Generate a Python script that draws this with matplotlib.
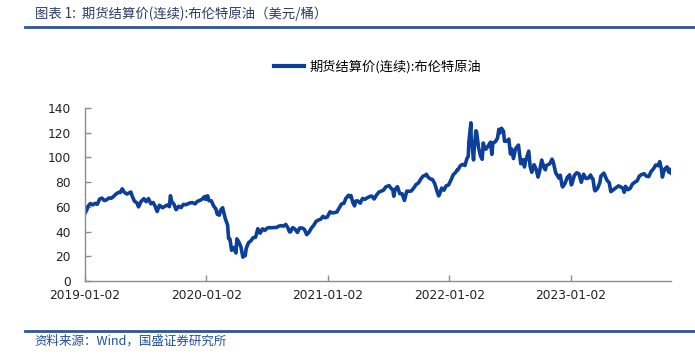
import matplotlib
matplotlib.use("Agg")
import matplotlib.pyplot as plt
import matplotlib.dates as mdates
from matplotlib.lines import Line2D
import pandas as pd

# ---------------- data ----------------
dates_2019 = ["2019-01-02","2019-01-07","2019-01-11","2019-01-18","2019-01-25","2019-02-01","2019-02-08",
              "2019-02-15","2019-02-22","2019-03-01","2019-03-08","2019-03-15","2019-03-22","2019-03-29",
              "2019-04-05","2019-04-12","2019-04-18","2019-04-24","2019-05-01","2019-05-08","2019-05-14",
              "2019-05-20","2019-05-24","2019-05-31","2019-06-07","2019-06-12","2019-06-20","2019-06-28",
              "2019-07-05","2019-07-12","2019-07-19","2019-07-26","2019-08-01","2019-08-07","2019-08-14",
              "2019-08-23","2019-08-30","2019-09-06","2019-09-13","2019-09-16","2019-09-20","2019-09-27",
              "2019-10-03","2019-10-11","2019-10-18","2019-10-25","2019-11-01","2019-11-08","2019-11-15",
              "2019-11-22","2019-11-29","2019-12-06","2019-12-13","2019-12-20","2019-12-27","2019-12-31"]
vals_2019 = [54.9,57.3,60.5,62.7,61.6,62.8,62.1,66.3,67.1,65.1,65.7,67.2,67.0,68.4,70.3,71.6,71.6,74.6,
             71.6,70.4,71.2,72.0,68.7,64.5,63.3,60.0,64.5,66.6,64.2,66.7,62.5,63.5,60.5,56.2,61.3,59.3,
             60.4,61.5,60.2,69.0,64.3,61.9,57.7,60.5,59.4,62.0,61.7,62.5,63.3,63.4,62.4,64.4,65.2,66.1,
             68.2,66.0]

dates_2020 = ["2020-01-03","2020-01-06","2020-01-10","2020-01-17","2020-01-24","2020-01-31","2020-02-04",
              "2020-02-10","2020-02-14","2020-02-20","2020-02-28","2020-03-06","2020-03-09","2020-03-13",
              "2020-03-18","2020-03-24","2020-03-31","2020-04-03","2020-04-09","2020-04-15","2020-04-21",
              "2020-04-24","2020-04-28","2020-05-01","2020-05-08","2020-05-15","2020-05-22","2020-05-29",
              "2020-06-05","2020-06-12","2020-06-19","2020-06-26","2020-07-03","2020-07-10","2020-07-17",
              "2020-07-24","2020-07-31","2020-08-07","2020-08-14","2020-08-21","2020-08-28","2020-09-04",
              "2020-09-08","2020-09-11","2020-09-18","2020-09-25","2020-10-02","2020-10-09","2020-10-16",
              "2020-10-23","2020-10-30","2020-11-06","2020-11-13","2020-11-20","2020-11-27","2020-12-04",
              "2020-12-11","2020-12-18","2020-12-24","2020-12-31"]
vals_2020 = [68.6,68.9,65.0,64.9,60.7,58.2,54.0,53.3,57.3,59.3,50.5,45.3,34.4,33.9,24.9,27.2,22.7,34.1,
             31.5,27.7,19.3,21.4,20.5,26.4,31.0,32.5,35.1,35.3,42.3,38.7,42.2,41.0,42.8,43.2,43.1,43.3,
             43.3,44.4,44.8,44.4,45.8,42.7,39.8,39.8,43.2,41.9,39.3,42.9,42.9,41.8,37.5,39.5,42.8,45.0,
             48.2,49.3,50.0,52.3,51.2,51.8]

dates_2021 = ["2021-01-08","2021-01-15","2021-01-22","2021-01-29","2021-02-05","2021-02-12","2021-02-19",
              "2021-02-25","2021-03-05","2021-03-08","2021-03-12","2021-03-18","2021-03-23","2021-03-26",
              "2021-04-01","2021-04-09","2021-04-16","2021-04-23","2021-04-30","2021-05-07","2021-05-14",
              "2021-05-21","2021-05-28","2021-06-04","2021-06-11","2021-06-18","2021-06-25","2021-07-05",
              "2021-07-09","2021-07-16","2021-07-19","2021-07-23","2021-07-30","2021-08-06","2021-08-13",
              "2021-08-20","2021-08-27","2021-09-03","2021-09-10","2021-09-17","2021-09-24","2021-10-01",
              "2021-10-08","2021-10-15","2021-10-22","2021-10-25","2021-10-29","2021-11-05","2021-11-12",
              "2021-11-19","2021-11-26","2021-12-01","2021-12-03","2021-12-10","2021-12-17","2021-12-23",
              "2021-12-31"]
vals_2021 = [56.0,55.1,55.4,55.9,59.3,62.4,62.9,67.0,69.4,68.2,69.2,63.3,60.8,64.6,64.9,63.0,66.8,66.1,
             67.3,68.3,68.7,66.4,69.6,71.9,72.7,73.5,76.2,77.2,75.6,73.6,68.6,74.1,76.3,70.7,70.6,65.2,
             72.7,72.6,72.9,75.3,78.1,79.3,82.4,84.9,85.5,86.4,84.4,82.7,82.2,78.9,72.7,68.9,69.9,75.2,
             73.5,76.9,77.8]

dates_2022 = ["2022-01-07","2022-01-14","2022-01-21","2022-01-26","2022-01-28","2022-02-04","2022-02-11",
              "2022-02-18","2022-02-24","2022-02-28","2022-03-02","2022-03-04","2022-03-08","2022-03-09",
              "2022-03-11","2022-03-15","2022-03-16","2022-03-18","2022-03-23","2022-03-25","2022-03-31",
              "2022-04-06","2022-04-11","2022-04-14","2022-04-19","2022-04-22","2022-04-29","2022-05-06",
              "2022-05-10","2022-05-13","2022-05-20","2022-05-27","2022-05-31","2022-06-03","2022-06-08",
              "2022-06-14","2022-06-17","2022-06-24","2022-06-30","2022-07-05","2022-07-08","2022-07-14",
              "2022-07-20","2022-07-29","2022-08-05","2022-08-12","2022-08-16","2022-08-19","2022-08-29",
              "2022-09-02","2022-09-07","2022-09-14","2022-09-20","2022-09-26","2022-09-30","2022-10-07",
              "2022-10-14","2022-10-18","2022-10-21","2022-10-31","2022-11-07","2022-11-11","2022-11-18",
              "2022-11-28","2022-12-02","2022-12-07","2022-12-09","2022-12-16","2022-12-23","2022-12-30"]
vals_2022 = [81.8,86.1,87.9,90.0,90.0,93.3,94.4,93.5,99.1,101.0,112.9,118.1,128.0,111.1,112.7,99.9,98.0,
             107.9,121.6,120.7,107.9,101.1,98.5,111.7,107.3,106.7,109.3,112.4,102.5,111.6,112.6,115.6,
             122.8,119.7,123.6,121.2,113.1,113.1,114.8,102.8,107.0,99.1,106.9,110.0,94.9,98.2,92.3,96.7,
             105.1,93.0,88.0,94.1,90.6,84.1,88.0,97.9,91.6,90.0,93.5,94.8,98.6,96.0,87.6,83.2,85.6,77.2,
             76.1,79.0,83.9,85.9]

dates_2023 = ["2023-01-04","2023-01-06","2023-01-13","2023-01-20","2023-01-27","2023-02-03","2023-02-10",
              "2023-02-17","2023-02-24","2023-03-03","2023-03-07","2023-03-10","2023-03-15","2023-03-17",
              "2023-03-24","2023-03-31","2023-04-03","2023-04-12","2023-04-21","2023-04-28","2023-05-03",
              "2023-05-12","2023-05-19","2023-05-26","2023-06-02","2023-06-09","2023-06-12","2023-06-16",
              "2023-06-23","2023-06-30","2023-07-07","2023-07-14","2023-07-21","2023-07-28","2023-08-04",
              "2023-08-11","2023-08-18","2023-08-25","2023-09-01","2023-09-08","2023-09-15","2023-09-22",
              "2023-09-27","2023-10-02","2023-10-05","2023-10-09","2023-10-13","2023-10-19","2023-10-24",
              "2023-10-27","2023-10-31"]
vals_2023 = [77.8,78.6,85.3,87.6,86.7,79.9,86.4,83.0,83.2,85.8,83.3,82.8,73.7,73.0,75.0,79.8,84.9,87.3,
             81.7,79.5,72.3,74.2,75.6,77.0,76.1,74.8,71.8,76.6,73.9,74.9,78.5,79.9,81.1,85.0,86.2,86.8,
             84.8,84.5,88.6,90.7,93.9,93.3,96.6,90.7,84.1,88.2,90.9,92.4,88.1,90.5,87.4]

series_name = "期货结算价(连续):布伦特原油"
title_text = "图表 1:  期货结算价(连续):布伦特原油（美元/桶）"
source_text = "资料来源：Wind，国盛证券研究所"
x_tick_labels = ["2019-01-02", "2020-01-02", "2021-01-02", "2022-01-02", "2023-01-02"]
y_ticks = [0, 20, 40, 60, 80, 100, 120, 140]

# ---------------- build ----------------
dates = pd.to_datetime(dates_2019 + dates_2020 + dates_2021 + dates_2022 + dates_2023)
values = vals_2019 + vals_2020 + vals_2021 + vals_2022 + vals_2023

CJK = ["Noto Sans CJK SC", "DejaVu Sans"]
LINE_COLOR = "#0B3F99"
RULE_COLOR = "#2F5597"

fig = plt.figure(figsize=(6.95, 3.61), dpi=100)
ax = fig.add_axes([0.1223, 0.2216, 0.8432, 0.4792])

ax.plot(dates, values, color=LINE_COLOR, linewidth=2.6, solid_joinstyle="round")

ax.set_ylim(0, 140)
ax.set_yticks(y_ticks)
ax.set_xlim(dates[0], dates[-1])
xt = pd.to_datetime(x_tick_labels)
ax.set_xticks(xt)
ax.set_xticklabels(x_tick_labels)

for s in ["top", "right"]:
    ax.spines[s].set_visible(False)
for s in ["left", "bottom"]:
    ax.spines[s].set_color("#8C8C8C")
    ax.spines[s].set_linewidth(1.0)
ax.tick_params(axis="both", direction="in", length=4, width=1.0, color="#8C8C8C",
               labelsize=8.8, labelcolor="#222222")
ax.tick_params(axis="y", pad=10)
ax.tick_params(axis="x", pad=6)

# legend
handle = Line2D([0], [0], color=LINE_COLOR, linewidth=3)
fig.legend([handle], [series_name], loc="center", bbox_to_anchor=(0.543, 0.815),
           frameon=False, handlelength=2.3, handletextpad=0.4,
           prop={"family": CJK, "size": 9.5})

# title and source
fig.text(0.050, 0.962, title_text, family=CJK, fontsize=9.6, color="#2B3A67",
         ha="left", va="center")
fig.add_artist(Line2D([0.036, 1.0], [0.925, 0.925], transform=fig.transFigure,
                      color=RULE_COLOR, linewidth=2))
fig.add_artist(Line2D([0.036, 1.0], [0.083, 0.083], transform=fig.transFigure,
                      color=RULE_COLOR, linewidth=2))
fig.text(0.050, 0.056, source_text, family=CJK, fontsize=9, color="#1F4E9F",
         ha="left", va="center")

fig.savefig("out.png", dpi=100)
